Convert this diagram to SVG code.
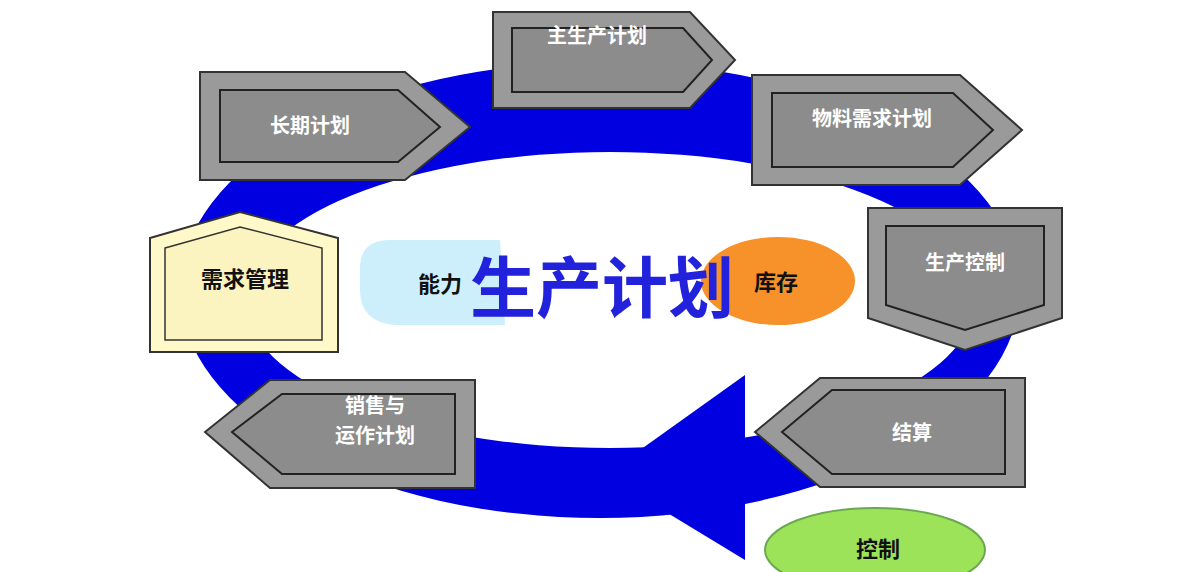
<svg xmlns="http://www.w3.org/2000/svg" width="1200" height="572" viewBox="0 0 1200 572">
<style>
.o{fill:#9a9a9a;stroke:#333;stroke-width:2}
.i{fill:#8c8c8c;stroke:#222;stroke-width:2}
.b{fill:none;stroke:#333;stroke-width:1.5}
.w{font-family:"Noto Sans CJK SC",sans-serif;font-weight:bold;font-size:20px;fill:#fff;text-anchor:middle}
.k{font-family:"Noto Sans CJK SC",sans-serif;font-weight:bold;font-size:22px;fill:#111;text-anchor:middle}
</style>
<rect width="1200" height="572" fill="#fff"/>
<g id="connectors">
<path fill="#0000e0" fill-rule="evenodd" d="M180,290a420,228 0 1,0 840,0a420,228 0 1,0 -840,0z M245,300a365,148 0 1,0 730,0a365,148 0 1,0 -730,0z"/>
<polygon fill="#0000e0" points="605,475 745,375 745,560"/>
</g>
<g id="n1"><polygon class="o" points="200,72 405,72 470,127 405,180 200,180"/><polygon class="i" points="220,90 398,90 440,127 398,162 220,162"/><text class="w" x="310" y="133">长期计划</text></g>
<g id="n2"><polygon class="o" points="493,12 690,12 735,60 690,108 493,108"/><polygon class="i" points="512,28 683,28 712,60 683,92 512,92"/><text class="w" x="597" y="43">主生产计划</text></g>
<g id="n3"><polygon class="o" points="752,75 960,75 1022,130 960,185 752,185"/><polygon class="i" points="772,93 953,93 993,130 953,167 772,167"/><text class="w" x="872" y="126">物料需求计划</text></g>
<g id="n4"><polygon class="o" points="868,208 1062,208 1062,318 965,350 868,318"/><polygon class="i" points="886,226 1044,226 1044,305 965,330 886,305"/><text class="w" x="965" y="270">生产控制</text></g>
<g id="n5"><polygon class="o" points="755,432 820,378 1025,378 1025,487 820,487"/><polygon class="i" points="782,432 832,390 1005,390 1005,474 832,474"/><text class="w" x="912" y="440">结算</text></g>
<g id="n6"><polygon class="o" points="205,432 270,380 475,380 475,488 270,488"/><polygon class="i" points="232,432 282,394 455,394 455,474 282,474"/><text class="w" x="375" y="413">销售与</text><text class="w" x="375" y="443">运作计划</text></g>
<g id="n7"><polygon fill="#fff8c8" stroke="#333" stroke-width="2" points="150,238 240,212 338,238 338,352 150,352"/><polygon fill="#fbf3c0" stroke="#333" stroke-width="1.5" points="165,248 240,227 322,248 322,340 165,340"/><text class="k" x="245" y="287">需求管理</text></g>
<g id="n8"><path fill="#cdeffb" d="M360,265 Q362,240 390,240 L500,240 L505,325 L395,325 Q360,322 360,290z"/><text class="k" x="440" y="292" font-size="20">能力</text></g>
<g id="n9"><ellipse cx="778" cy="281" rx="77" ry="44" fill="#f7922a"/><text class="k" x="776" y="290" font-size="20">库存</text></g>
<g id="n10"><ellipse cx="875" cy="550" rx="110" ry="42" fill="#9de35a" stroke="#6aa84f" stroke-width="2"/><text class="k" x="878" y="557" font-size="20">控制</text></g>
<text x="602" y="312" font-family="Noto Sans CJK SC,sans-serif" font-size="66" font-weight="bold" fill="#2222dd" text-anchor="middle">生产计划</text>
</svg>
